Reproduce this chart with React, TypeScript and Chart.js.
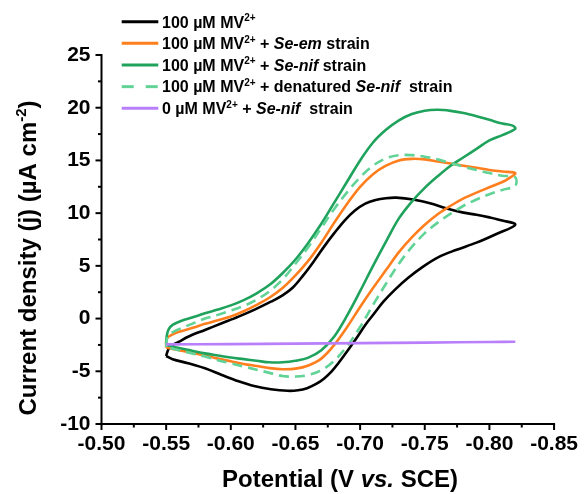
import React, { useEffect, useRef } from 'react';
import { Chart, registerables } from 'chart.js';

Chart.register(...registerables);

const FONT = 'Arial, "Liberation Sans", Helvetica, sans-serif';

// Axis ranges / ticks
const xRange = [-0.85, -0.5];
const yRange = [-10, 25];
const xMajor = 0.05;
const yMajor = 5;

// 100 µM MV2+ (black) – closed loop: left tip -> upper branch -> right tip -> lower branch
const mvV = [-0.55, -0.551, -0.553, -0.56, -0.567, -0.58, -0.593, -0.606, -0.618, -0.631, -0.64, -0.648, -0.656, -0.664, -0.672, -0.68, -0.688, -0.696, -0.704, -0.712, -0.72, -0.728, -0.741, -0.754, -0.767, -0.78, -0.79, -0.8, -0.81, -0.82,
  -0.805, -0.79, -0.774, -0.761, -0.749, -0.737, -0.727, -0.718, -0.711, -0.704, -0.697, -0.69, -0.684, -0.678, -0.672, -0.666, -0.659, -0.652, -0.644, -0.631, -0.618, -0.606, -0.593, -0.58, -0.567, -0.555, -0.55];
const mvJ = [-3.55, -3.14, -2.67, -2.19, -1.72, -1.08, -0.45, 0.18, 0.82, 1.6, 2.2, 2.95, 4.1, 5.4, 6.8, 8.1, 9.3, 10.25, 10.9, 11.25, 11.42, 11.47, 11.3, 10.94, 10.45, 10.05, 9.85, 9.6, 9.3, 8.9,
  8.0, 7.2, 6.5, 5.85, 4.95, 3.85, 2.75, 1.6, 0.5, -0.6, -1.9, -3.1, -4.1, -5.0, -5.7, -6.2, -6.6, -6.8, -6.85, -6.7, -6.4, -5.95, -5.35, -4.72, -4.24, -3.85, -3.55];

// 100 µM MV2+ + Se-em strain (orange)
const emV = [-0.55, -0.5505, -0.555, -0.56, -0.57, -0.58, -0.59, -0.6, -0.61, -0.62, -0.63, -0.64, -0.65, -0.66, -0.67, -0.68, -0.69, -0.7, -0.71, -0.72, -0.73, -0.74, -0.75, -0.76, -0.77, -0.78, -0.79, -0.8, -0.81, -0.82,
  -0.815, -0.81, -0.8, -0.79, -0.78, -0.77, -0.76, -0.75, -0.74, -0.73, -0.72, -0.71, -0.7, -0.69, -0.68, -0.67, -0.66, -0.65, -0.64, -0.63, -0.62, -0.61, -0.6, -0.59, -0.58, -0.57, -0.56, -0.55];
const emJ = [-2.75, -1.9, -1.5, -1.25, -0.9, -0.5, -0.15, 0.2, 0.7, 1.3, 2.0, 2.9, 4.1, 5.5, 7.2, 9.1, 10.9, 12.5, 13.7, 14.5, 15.0, 15.15, 15.1, 14.9, 14.7, 14.5, 14.3, 14.1, 13.95, 13.8,
  13.3, 12.95, 12.45, 11.95, 11.4, 10.7, 9.9, 8.9, 7.7, 6.3, 4.6, 2.9, 1.1, -0.8, -2.5, -3.8, -4.45, -4.75, -4.8, -4.7, -4.5, -4.3, -4.05, -3.8, -3.5, -3.25, -3.0, -2.75];

// 100 µM MV2+ + Se-nif strain (green)
const nifV = [-0.55, -0.5505, -0.552, -0.555, -0.562, -0.57, -0.58, -0.59, -0.6, -0.61, -0.62, -0.63, -0.64, -0.65, -0.66, -0.67, -0.68, -0.69, -0.7, -0.71, -0.72, -0.73, -0.74, -0.75, -0.76, -0.77, -0.78, -0.79, -0.8, -0.81, -0.818, -0.82,
  -0.81, -0.8, -0.79, -0.78, -0.77, -0.76, -0.75, -0.74, -0.73, -0.72, -0.71, -0.7, -0.69, -0.68, -0.67, -0.66, -0.65, -0.64, -0.63, -0.62, -0.61, -0.6, -0.59, -0.58, -0.57, -0.56, -0.55];
const nifJ = [-2.5, -1.6, -1.0, -0.6, -0.2, 0.1, 0.5, 0.85, 1.25, 1.75, 2.4, 3.2, 4.3, 5.6, 7.2, 9.0, 11.0, 13.0, 15.0, 16.7, 17.9, 18.8, 19.4, 19.72, 19.8, 19.7, 19.5, 19.2, 18.85, 18.5, 18.3, 18.0,
  17.4, 16.9, 16.1, 15.3, 14.5, 13.5, 12.4, 11.1, 9.5, 7.3, 5.0, 2.6, 0.3, -1.7, -3.0, -3.7, -4.0, -4.15, -4.15, -4.0, -3.85, -3.7, -3.5, -3.3, -3.05, -2.8, -2.5];

// 100 µM MV2+ + denatured Se-nif strain (light green, dashed)
const denV = [-0.55, -0.551, -0.555, -0.56, -0.57, -0.58, -0.59, -0.6, -0.61, -0.62, -0.63, -0.64, -0.65, -0.66, -0.67, -0.68, -0.69, -0.7, -0.71, -0.72, -0.73, -0.74, -0.75, -0.76, -0.77, -0.78, -0.79, -0.8, -0.81, -0.82,
  -0.82, -0.81, -0.8, -0.79, -0.78, -0.77, -0.76, -0.75, -0.74, -0.73, -0.72, -0.71, -0.7, -0.69, -0.68, -0.67, -0.66, -0.65, -0.64, -0.63, -0.62, -0.61, -0.6, -0.59, -0.58, -0.57, -0.56, -0.55];
const denJ = [-2.7, -1.8, -1.3, -1.0, -0.5, 0.0, 0.35, 0.75, 1.2, 1.8, 2.6, 3.7, 5.2, 6.8, 8.6, 10.4, 12.0, 13.4, 14.5, 15.2, 15.5, 15.5, 15.35, 15.1, 14.75, 14.4, 14.1, 13.8, 13.55, 13.4,
  12.6, 12.2, 11.8, 11.3, 10.7, 9.95, 9.1, 8.1, 6.8, 5.2, 3.3, 1.3, -0.8, -2.6, -4.0, -4.9, -5.35, -5.5, -5.45, -5.15, -4.85, -4.55, -4.25, -3.95, -3.6, -3.3, -3.0, -2.7];

// 0 µM MV2+ + Se-nif strain (purple)
const blankV = [-0.55, -0.6, -0.65, -0.7, -0.75, -0.8, -0.82];
const blankJ = [-2.45, -2.42, -2.38, -2.33, -2.28, -2.22, -2.2];

type Seg = { t: string; i?: boolean; sup?: boolean };

const legendRows: { color: string; dash: number[]; segs: Seg[] }[] = [
  { color: '#000000', dash: [], segs: [{ t: '100 µM MV' }, { t: '2+', sup: true }] },
  { color: '#FF7F1E', dash: [], segs: [{ t: '100 µM MV' }, { t: '2+', sup: true }, { t: ' + ' }, { t: 'Se-em', i: true }, { t: ' strain' }] },
  { color: '#1FA35C', dash: [], segs: [{ t: '100 µM MV' }, { t: '2+', sup: true }, { t: ' + ' }, { t: 'Se-nif', i: true }, { t: ' strain' }] },
  { color: '#62D397', dash: [12, 12], segs: [{ t: '100 µM MV' }, { t: '2+', sup: true }, { t: ' + denatured ' }, { t: 'Se-nif', i: true }, { t: '  strain' }] },
  { color: '#B97FFA', dash: [], segs: [{ t: '0 µM MV' }, { t: '2+', sup: true }, { t: ' + ' }, { t: 'Se-nif', i: true }, { t: '  strain' }] },
];

const xTitle: Seg[] = [{ t: 'Potential (V ' }, { t: 'vs.', i: true }, { t: ' SCE)' }];
const yTitle: Seg[] = [{ t: 'Current density (j) (µA cm' }, { t: '-2', sup: true }, { t: ')' }];

const fontFor = (s: Seg, size: number) =>
  `${s.i ? 'italic ' : ''}bold ${s.sup ? Math.round(size * 0.62) : size}px ${FONT}`;

function drawRich(ctx: CanvasRenderingContext2D, segs: Seg[], x: number, y: number, size: number, center: boolean) {
  const widths = segs.map((s) => {
    ctx.font = fontFor(s, size);
    return ctx.measureText(s.t).width;
  });
  const total = widths.reduce((a, b) => a + b, 0);
  let cx = center ? x - total / 2 : x;
  segs.forEach((s, k) => {
    ctx.font = fontFor(s, size);
    ctx.fillText(s.t, cx, s.sup ? y - size * 0.4 : y);
    cx += widths[k];
  });
}

const isMult = (v: number, step: number) => Math.abs(Math.round(v / step) - v / step) < 1e-6;

const decorPlugin = {
  id: 'decor',
  afterDraw(chart: any) {
    const { ctx, chartArea: a, scales } = chart;
    const xs = scales.x;
    const ys = scales.y;
    ctx.save();
    ctx.strokeStyle = '#000';
    ctx.fillStyle = '#000';
    ctx.lineWidth = 2;
    ctx.lineCap = 'square';
    ctx.beginPath();
    ctx.moveTo(a.left, a.top);
    ctx.lineTo(a.left, a.bottom);
    ctx.lineTo(a.right, a.bottom);
    ctx.stroke();
    ctx.lineCap = 'butt';
    for (const t of ys.ticks) {
      const p = ys.getPixelForValue(t.value);
      const len = isMult(t.value, yMajor) ? 6 : 3.5;
      ctx.beginPath();
      ctx.moveTo(a.left - len, p);
      ctx.lineTo(a.left, p);
      ctx.stroke();
    }
    for (const t of xs.ticks) {
      const p = xs.getPixelForValue(t.value);
      const len = isMult(t.value, xMajor) ? 6 : 3.5;
      ctx.beginPath();
      ctx.moveTo(p, a.bottom);
      ctx.lineTo(p, a.bottom + len);
      ctx.stroke();
    }
    // legend
    ctx.textBaseline = 'alphabetic';
    legendRows.forEach((row, k) => {
      const cy = 21.7 + k * 21.65;
      ctx.strokeStyle = row.color;
      ctx.lineWidth = 3;
      ctx.setLineDash(row.dash);
      ctx.beginPath();
      ctx.moveTo(121.7, cy);
      ctx.lineTo(158.3, cy);
      ctx.stroke();
      ctx.setLineDash([]);
      ctx.fillStyle = '#000';
      drawRich(ctx, row.segs, 162, cy + 5.8, 16, false);
    });
    // axis titles
    drawRich(ctx, xTitle, 340, 487, 24, true);
    ctx.save();
    ctx.translate(27, 258);
    ctx.rotate(-Math.PI / 2);
    drawRich(ctx, yTitle, 0, 8.6, 24, true);
    ctx.restore();
    ctx.restore();
  },
};

const toPts = (v: number[], j: number[]) => v.map((x, i) => ({ x, y: j[i] }));

export default function App() {
  const ref = useRef<HTMLCanvasElement>(null);
  useEffect(() => {
    if (!ref.current) return;
    const mk = (label: string, v: number[], j: number[], color: string, order: number, dash: number[] = []) => ({
      label,
      data: toPts(v, j),
      borderColor: color,
      backgroundColor: color,
      borderWidth: 2.6,
      borderDash: dash,
      showLine: true,
      pointRadius: 0,
      tension: 0.35,
      fill: false,
      order,
    });
    const chart = new Chart(ref.current, {
      type: 'scatter',
      data: {
        datasets: [
          mk('0 µM MV2+ + Se-nif strain', blankV, blankJ, '#B97FFA', 1),
          mk('100 µM MV2+ + denatured Se-nif strain', denV, denJ, '#62D397', 2, [10, 6]),
          mk('100 µM MV2+ + Se-nif strain', nifV, nifJ, '#1FA35C', 3),
          mk('100 µM MV2+ + Se-em strain', emV, emJ, '#FF7F1E', 4),
          mk('100 µM MV2+', mvV, mvJ, '#000000', 5),
        ],
      },
      options: {
        responsive: false,
        animation: false,
        layout: { padding: { top: 55, right: 27.3, bottom: 0, left: 0 } },
        plugins: { legend: { display: false }, tooltip: { enabled: false } },
        scales: {
          x: {
            type: 'linear',
            reverse: true,
            min: xRange[0],
            max: xRange[1],
            afterFit: (s: any) => { s.height = 70; },
            grid: { display: false, drawTicks: false },
            border: { display: false },
            ticks: {
              stepSize: xMajor / 2,
              autoSkip: false,
              maxRotation: 0,
              padding: 8,
              color: '#000',
              font: { family: FONT, size: 21, weight: 'bold' },
              callback: (v: any) => (isMult(Number(v), xMajor) ? Number(v).toFixed(2) : ''),
            },
          },
          y: {
            type: 'linear',
            min: yRange[0],
            max: yRange[1],
            afterFit: (s: any) => { s.width = 101.5; },
            grid: { display: false, drawTicks: false },
            border: { display: false },
            ticks: {
              stepSize: yMajor / 2,
              autoSkip: false,
              padding: 11,
              color: '#000',
              font: { family: FONT, size: 21, weight: 'bold' },
              callback: (v: any) => (isMult(Number(v), yMajor) ? String(Math.round(Number(v))) : ''),
            },
          },
        },
      },
      plugins: [decorPlugin],
    });
    return () => chart.destroy();
  }, []);
  return (
    <div style={{ position: 'fixed', left: 0, top: 0, width: 586, height: 494, background: '#fff' }}>
      <canvas ref={ref} width={586} height={494} style={{ width: 586, height: 494 }} />
    </div>
  );
}
